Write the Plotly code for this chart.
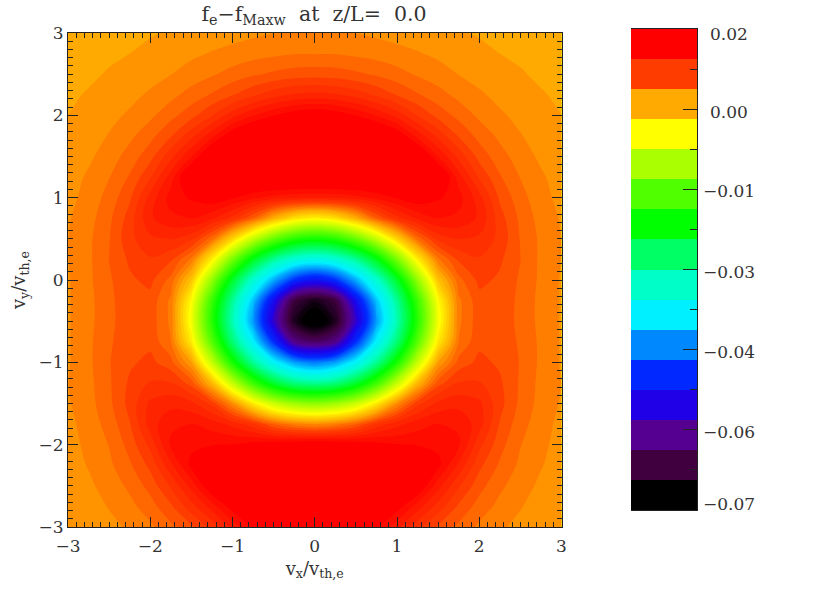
import plotly.graph_objects as go

W, H = 830, 593
# half profile columns |vx| = 0 ... 3, step .25; rows from vy=-3 to 3
vx_half = [0, .25, .5, .75, 1, 1.25, 1.5, 1.75, 2, 2.25, 2.5, 2.75, 3]
vy = [-3, -2.75, -2.5, -2.25, -2, -1.75, -1.5, -1.25, -1, -.75, -.5, -.25, 0,
      .25, .5, .75, 1, 1.25, 1.5, 1.75, 2, 2.25, 2.5, 2.75, 3]
df_half = [
 [.0195,.0190,.0180,.0168,.0147,.0125,.0108,.0096,.0085,.0078,.0073,.0068,.0065],
 [.0195,.0195,.0195,.0195,.0173,.0149,.0128,.0108,.0094,.0084,.0077,.0071,.0067],
 [.0195,.0195,.0195,.0195,.0195,.0180,.0148,.0123,.0103,.0090,.0081,.0074,.0069],
 [.0195,.0195,.0195,.0195,.0195,.0195,.0170,.0141,.0113,.0097,.0085,.0077,.0071],
 [.0185,.0182,.0178,.0172,.0167,.0165,.0163,.0157,.0125,.0103,.0088,.0079,.0072],
 [.0075,.0082,.0098,.0125,.0140,.0150,.0155,.0153,.0138,.0109,.0092,.0081,.0073],
 [-.0070,-.0060,-.0032,.0017,.0075,.0118,.0136,.0140,.0135,.0114,.0096,.0083,.0075],
 [-.0248,-.0235,-.0193,-.0125,-.0037,.0050,.0105,.0122,.0122,.0112,.0097,.0084,.0076],
 [-.0400,-.0378,-.0325,-.0248,-.0150,-.0035,.0065,.0103,.0113,.0108,.0098,.0085,.0075],
 [-.0590,-.0565,-.0445,-.0330,-.0230,-.0105,.0017,.0088,.0107,.0106,.0097,.0085,.0075],
 [-.0698,-.0648,-.0520,-.0380,-.0265,-.0138,-.0005,.0085,.0105,.0105,.0096,.0084,.0075],
 [-.0652,-.0618,-.0485,-.0358,-.0248,-.0124,.0005,.0085,.0106,.0106,.0096,.0084,.0075],
 [-.0476,-.0445,-.0370,-.0288,-.0188,-.0067,.0043,.0095,.0113,.0108,.0097,.0085,.0075],
 [-.0308,-.0293,-.0250,-.0180,-.0085,.0013,.0085,.0112,.0120,.0112,.0099,.0085,.0076],
 [-.0152,-.0138,-.0097,-.0037,.0032,.0092,.0125,.0133,.0130,.0118,.0098,.0085,.0076],
 [.0010,.0024,.0056,.0098,.0128,.0146,.0155,.0152,.0142,.0115,.0096,.0083,.0075],
 [.0145,.0146,.0150,.0158,.0168,.0175,.0168,.0160,.0137,.0108,.0092,.0080,.0073],
 [.0195,.0195,.0195,.0195,.0195,.0195,.0189,.0149,.0120,.0100,.0087,.0078,.0071],
 [.0195,.0195,.0195,.0195,.0195,.0191,.0155,.0129,.0106,.0092,.0082,.0074,.0069],
 [.0195,.0195,.0195,.0195,.0178,.0151,.0129,.0109,.0095,.0085,.0077,.0071,.0067],
 [.0180,.0175,.0166,.0154,.0139,.0121,.0106,.0095,.0085,.0078,.0073,.0068,.0065],
 [.0136,.0134,.0128,.0119,.0109,.0100,.0092,.0084,.0078,.0073,.0069,.0066,.0063],
 [.0105,.0104,.0101,.0097,.0092,.0086,.0081,.0076,.0072,.0069,.0066,.0063,.0061],
 [.0087,.0087,.0085,.0083,.0080,.0077,.0074,.0071,.0068,.0065,.0063,.0062,.0060],
 [.0077,.0077,.0076,.0074,.0072,.0071,.0068,.0066,.0064,.0063,.0061,.0060,.0060],
]
band_colors = ["#000000", "#400040", "#550090", "#2000e6", "#0028ff", "#0088ff", "#00f0ff", "#00ffc8",
               "#00ff64", "#00ff00", "#50ff00", "#aaff00", "#ffff00", "#ffaa00", "#ff3c00", "#ff0000"]
cbar_ticks = [.02, .005, -.01, -.025, -.04, -.055, -.07]
cbar_minor = [.0125, -.0025, -.0175, -.0325, -.0475, -.0625]
cbar_labels = ["0.02", "0.00", "\u22120.01", "\u22120.03", "\u22120.04", "\u22120.06", "\u22120.07"]
label_shift = [-5, -3, -2, -2, -2, -2, 6]
vmin, vmax = -.07, .02

vx = [-v for v in vx_half[:0:-1]] + vx_half
df = [r[:0:-1] + r for r in df_half]
n = len(band_colors)
step = (vmax - vmin) / n
edges = [vmin + i * step for i in range(n + 1)]
centers = [vmin + (i + .5) * step for i in range(n)]
cscale = [[0, band_colors[0]]] + [[(i + .5) / n, c] for i, c in enumerate(band_colors)] + [[1, band_colors[-1]]]

FONT = "DejaVu Serif"
TXT = "#333333"
LINE = "#222222"

def px_x(p):
    return p / W

def px_y(p):
    return 1 - p / H

fig = go.Figure()
fig.add_trace(go.Contour(x=vx, y=vy, z=df, zmin=vmin, zmax=vmax, zauto=False, colorscale=cscale, showscale=False,
                         autocontour=False, contours=dict(start=vmin, end=vmax, size=(vmax - vmin) / 80, coloring="fill", showlines=False),
                         line=dict(width=0), xaxis="x", yaxis="y"))
fig.add_trace(go.Heatmap(x=[0, 1], y=edges, z=[[c] for c in centers], zmin=vmin, zmax=vmax, zauto=False,
                         colorscale=cscale, showscale=False, xaxis="x2", yaxis="y2"))

main_axis = dict(showgrid=False, zeroline=False, showline=True, linecolor=LINE, linewidth=1, mirror="allticks", automargin=False,
                 ticks="inside", ticklen=10, tickwidth=1, tickcolor=LINE, dtick=1, tick0=0, range=[-3, 3],
                 minor=dict(dtick=.1, tick0=0, ticks="inside", ticklen=5, tickwidth=1, tickcolor=LINE),
                 tickfont=dict(family=FONT, size=17, color=TXT))
fig.update_layout(
    width=W, height=H, margin=dict(l=0, r=0, t=0, b=0, autoexpand=False), paper_bgcolor="white", plot_bgcolor="white",
    font=dict(family=FONT, color=TXT),
    title=dict(text="f<sub>e</sub>\u2212f<sub>Maxw</sub>  at  z/L=  0.0", x=px_x(314), xanchor="center", y=px_y(14), yanchor="middle",
               font=dict(family=FONT, size=20.5, color=TXT)),
    xaxis=dict(domain=[px_x(68), px_x(561.5)], anchor="y", ticklabelstandoff=4,
               title=dict(text="v<sub>x</sub>/v<sub>th,e</sub>", font=dict(family=FONT, size=18, color=TXT), standoff=6), **main_axis),
    yaxis=dict(domain=[px_y(527), px_y(33)], anchor="x",
               title=dict(text="v<sub>y</sub>/v<sub>th,e</sub>", font=dict(family=FONT, size=18, color=TXT), standoff=8), **main_axis),
    xaxis2=dict(domain=[px_x(631), px_x(697)], anchor="y2", range=[0, 1], showticklabels=False, ticks="", showgrid=False, automargin=False,
                zeroline=False, showline=True, mirror=True, linecolor=LINE, linewidth=1),
    yaxis2=dict(domain=[px_y(510), px_y(29)], anchor="x2", side="right", range=[vmin, vmax], showgrid=False, zeroline=False, automargin=False,
                showline=True, linecolor=LINE, linewidth=1, tickvals=cbar_ticks, ticks="inside", ticklen=14, tickcolor=LINE,
                showticklabels=False, minor=dict(tickvals=cbar_minor, ticks="inside", ticklen=7, tickcolor=LINE)),
    annotations=[dict(text=t, x=px_x(729), xref="paper", xanchor="center", y=v, yref="y2", yshift=s, yanchor="middle",
                      showarrow=False, font=dict(family=FONT, size=17, color=TXT))
                 for t, v, s in zip(cbar_labels, cbar_ticks, label_shift)],
)
fig.write_html("out.html", post_script="document.body.style.margin='0';", config={"displayModeBar": False})
